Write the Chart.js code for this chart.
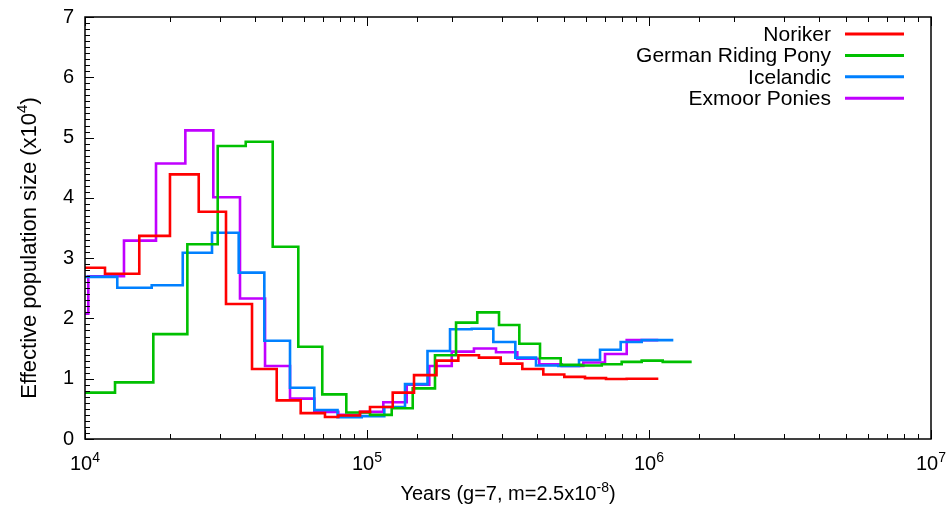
<!DOCTYPE html>
<html>
<head>
<meta charset="utf-8">
<script src="https://cdn.jsdelivr.net/npm/chart.js@4.4.0/dist/chart.umd.min.js"></script>
<style>
  html, body { margin: 0; padding: 0; background: #fff; }
</style>
</head>
<body>
<canvas id="psmc" width="950" height="511"></canvas>
<script>
// PSMC curves: start of each time interval (years) and Ne (x10^4) held until the next one
const norikerYears = [10000, 11774, 15577, 20013, 25309, 31623, 39107, 47846, 58196, 70955, 79125, 94450, 102470, 123370, 146800, 176400, 210830, 249500, 297950, 355450, 421900, 500750, 593000, 703900, 833500, 1079000];
const norikerNe    = [2.84, 2.74, 3.37, 4.39, 3.77, 2.24, 1.16, 0.64, 0.43, 0.365, 0.39, 0.45, 0.53, 0.77, 1.06, 1.30, 1.39, 1.35, 1.25, 1.16, 1.07, 1.03, 1.01, 0.995, 1.00, 1.00];

const grpYears = [10000, 12778, 17468, 23064, 29553, 37150, 46306, 57068, 69405, 84450, 102470, 122370, 145250, 174220, 206890, 246040, 293860, 346870, 410690, 486300, 575000, 680000, 800100, 942100, 1118600, 1417000];
const grpNe    = [0.77, 0.94, 1.74, 3.23, 4.86, 4.93, 3.19, 1.53, 0.74, 0.44, 0.40, 0.51, 0.84, 1.39, 1.93, 2.10, 1.89, 1.58, 1.34, 1.23, 1.22, 1.24, 1.28, 1.30, 1.28, 1.28];

const icelandicYears = [10000, 13015, 17240, 22213, 28209, 35078, 43242, 53333, 65029, 78617, 95766, 115170, 136390, 163870, 196990, 235060, 280530, 335730, 397500, 476880, 564800, 670500, 793500, 942100, 1219700];
const icelandicNe    = [2.69, 2.51, 2.55, 3.09, 3.42, 2.76, 1.63, 0.85, 0.48, 0.36, 0.38, 0.53, 0.91, 1.46, 1.82, 1.83, 1.61, 1.35, 1.22, 1.21, 1.31, 1.48, 1.61, 1.64, 1.64];

const exmoorYears = [10000, 10273, 13748, 17857, 22689, 28510, 35451, 43492, 53333, 65029, 79125, 94450, 114250, 138290, 166300, 199770, 239500, 286730, 341260, 408330, 490240, 584900, 698200, 833500, 1079000];
const exmoorNe    = [2.08, 2.70, 3.29, 4.57, 5.12, 4.01, 2.33, 1.21, 0.67, 0.45, 0.40, 0.45, 0.61, 0.90, 1.21, 1.45, 1.50, 1.44, 1.33, 1.24, 1.21, 1.27, 1.41, 1.64, 1.64];

const seriesNames = ['Noriker', 'German Riding Pony', 'Icelandic', 'Exmoor Ponies'];
const seriesColors = ['#ff0000', '#00c000', '#0080ff', '#c000ff'];

const xExponents = [4, 5, 6, 7];

const FONT = '"Liberation Sans", Arial, Helvetica, sans-serif';

function pts(xs, ys) {
  return xs.map((x, i) => ({ x: x, y: ys[i] }));
}

// draws text pieces where some are superscripts, centred on (0,0)
function drawParts(ctx, parts, size) {
  const supSize = Math.round(size * 0.7);
  let total = 0;
  const widths = parts.map(p => {
    ctx.font = (p.sup ? supSize : size) + 'px ' + FONT;
    const w = ctx.measureText(p.t).width;
    total += w;
    return w;
  });
  let x = -total / 2;
  parts.forEach((p, i) => {
    ctx.font = (p.sup ? supSize : size) + 'px ' + FONT;
    ctx.fillText(p.t, x, p.sup ? -size * 0.42 : 0);
    x += widths[i];
  });
}

const frame = {
  id: 'frame',
  afterDatasetsDraw(chart) {
    const ctx = chart.ctx;
    const a = chart.chartArea;
    const xs = chart.scales.x, ys = chart.scales.y;
    ctx.save();
    ctx.strokeStyle = '#000';
    ctx.lineWidth = 1.5;
    ctx.strokeRect(a.left, a.top, a.right - a.left, a.bottom - a.top);

    ctx.lineWidth = 1;
    ctx.beginPath();
    xs.ticks.forEach(t => {
      const px = Math.round(xs.getPixelForValue(t.value)) + 0.5;
      const major = Math.abs(Math.log10(t.value) - Math.round(Math.log10(t.value))) < 1e-9;
      const len = major ? 9 : 5;
      ctx.moveTo(px, a.bottom); ctx.lineTo(px, a.bottom - len);
      ctx.moveTo(px, a.top); ctx.lineTo(px, a.top + len);
    });
    for (let i = 0; i <= 70; i++) {
      const py = Math.round(ys.getPixelForValue(i / 10)) + 0.5;
      const len = i % 10 === 0 ? 9 : 5;
      ctx.moveTo(a.left, py); ctx.lineTo(a.left + len, py);
    }
    ctx.stroke();

    ctx.fillStyle = '#000';
    ctx.textBaseline = 'alphabetic';
    ctx.textAlign = 'left';
    xExponents.forEach(e => {
      const px = xs.getPixelForValue(Math.pow(10, e));
      ctx.save();
      ctx.translate(px, 470);
      drawParts(ctx, [{ t: '10' }, { t: String(e), sup: true }], 20);
      ctx.restore();
    });

    ctx.save();
    ctx.translate((a.left + a.right) / 2, 500);
    drawParts(ctx, [{ t: 'Years (g=7, m=2.5x10' }, { t: '-8', sup: true }, { t: ')' }], 20);
    ctx.restore();

    ctx.save();
    ctx.translate(36, 248);
    ctx.rotate(-Math.PI / 2);
    drawParts(ctx, [{ t: 'Effective population size (x10' }, { t: '4', sup: true }, { t: ')' }], 22);
    ctx.restore();

    // key, top right
    ctx.font = '21px ' + FONT;
    ctx.textAlign = 'right';
    ctx.textBaseline = 'middle';
    ctx.lineWidth = 3;
    chart.data.datasets.forEach((ds, i) => {
      const y = 34 + i * 21.4;
      ctx.fillText(ds.label, 831, y + 1);
      ctx.strokeStyle = ds.borderColor;
      ctx.beginPath();
      ctx.moveTo(845, y); ctx.lineTo(904, y);
      ctx.stroke();
    });
    ctx.restore();
  }
};

const allYears = [norikerYears, grpYears, icelandicYears, exmoorYears];
const allNe = [norikerNe, grpNe, icelandicNe, exmoorNe];

new Chart(document.getElementById('psmc'), {
  type: 'line',
  data: {
    datasets: seriesNames.map((name, i) => ({
      label: name,
      data: pts(allYears[i], allNe[i]),
      borderColor: seriesColors[i],
      backgroundColor: seriesColors[i],
      borderWidth: 2.6,
      stepped: 'before',
      pointRadius: 0,
      fill: false
    }))
  },
  options: {
    responsive: false,
    animation: false,
    devicePixelRatio: 1,
    layout: { padding: { left: 0, right: 19, top: 17, bottom: 0 } },
    plugins: {
      legend: { display: false },
      tooltip: { enabled: false }
    },
    scales: {
      x: {
        type: 'logarithmic',
        min: 10000,
        max: 10000000,
        grid: { display: false, drawTicks: false },
        border: { display: false },
        ticks: { display: false },
        afterFit: s => { s.height = 72; s.paddingLeft = 0; s.paddingRight = 0; }
      },
      y: {
        min: 0,
        max: 7,
        grid: { display: false, drawTicks: false },
        border: { display: false },
        ticks: {
          stepSize: 1,
          color: '#000',
          padding: 11,
          font: { family: FONT, size: 20 }
        },
        afterFit: s => { s.width = 85; s.paddingTop = 0; s.paddingBottom = 0; }
      }
    }
  },
  plugins: [frame]
});
</script>
</body>
</html>
